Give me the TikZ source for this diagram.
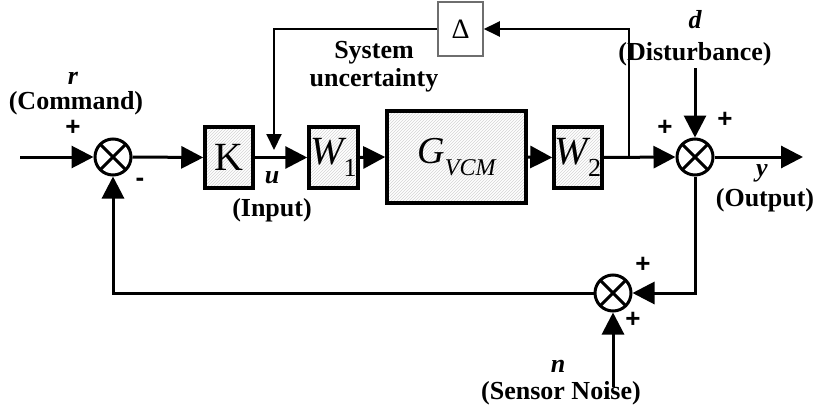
\documentclass[tikz,border=0pt]{standalone}
\usepackage{fontspec}
\setmainfont{Liberation Serif}
\newfontfamily\signfont{Liberation Sans}
\usetikzlibrary{arrows.meta,positioning,calc,patterns}
\definecolor{hatchGray}{HTML}{D4D4D4}
\definecolor{deltaEdge}{HTML}{6E6E6E}

\tikzset{
  blockbox/.style={draw,line width=3.5pt,pattern=north east lines,pattern color=hatchGray,
    minimum width=48pt,minimum height=61pt,inner sep=0pt},
  sumnode/.style={draw,circle,line width=3pt,minimum size=36pt,inner sep=0pt,
    path picture={\draw[line width=3pt]
      (path picture bounding box.north west) -- (path picture bounding box.south east)
      (path picture bounding box.north east) -- (path picture bounding box.south west);}},
  sig/.style={line width=3pt,-{Triangle[length=22pt,width=22pt]}},
  thinsig/.style={line width=2pt,-{Triangle[length=16pt,width=15pt]}},
  lbl/.style={font=\fontsize{26}{28}\selectfont\bfseries,inner sep=0pt,align=center},
  sgn/.style={font=\signfont\fontsize{26}{26}\selectfont\bfseries,inner sep=0pt,
    text height=0.55em,text depth=0pt}
}

\begin{document}
\begin{tikzpicture}[x=1pt,y=-1pt]
\useasboundingbox (0,0) rectangle (813,412);
% blocks
\node[sumnode] (sumR) at (113,157) {};
\node[blockbox] (gainK) at (229,157.5) {\fontsize{40}{40}\selectfont K};
\node[blockbox,minimum width=49pt] (wOne) at (333.5,157.5)
  {\fontsize{40}{40}\selectfont\itshape W\raisebox{-0.3em}{\upshape\fontsize{26}{26}\selectfont 1}};
\node[blockbox,minimum width=139pt,minimum height=92pt] (plant) at (456.5,157)
  {\fontsize{38}{38}\selectfont\itshape G\raisebox{-0.3em}{\fontsize{24}{24}\selectfont VCM}};
\node[blockbox] (wTwo) at (578,157.5)
  {\fontsize{40}{40}\selectfont\itshape W\raisebox{-0.3em}{\upshape\fontsize{26}{26}\selectfont 2}};
\node[draw=deltaEdge,line width=1.5pt,minimum width=45pt,minimum height=54pt,inner sep=0pt]
  (delta) at (460.5,29) {\fontsize{28}{28}\selectfont Δ};
\node[sumnode] (sumD) at (695,157) {};
\node[sumnode] (sumN) at (613,293) {};
% free ends
\coordinate (rIn) at (20,157);
\coordinate (uTop) at (274,150);
\coordinate (yBranch) at (629,157);
\coordinate (dIn) at (695,68);
\coordinate (yOut) at (803,157);
\coordinate (nIn) at (613,387);
% signals
\draw[sig] (rIn) -- (sumR.west);
\draw[sig] (sumR.east) -- (gainK.west);
\draw[sig] (gainK.east) -- (wOne.west);
\draw[sig] (wOne.east) -- (plant.west);
\draw[sig] (plant.east) -- (wTwo.west);
\draw[sig] (wTwo.east) -- (sumD.west);
\draw[thinsig] (yBranch) |- (delta.east);
\draw[thinsig] (delta.west) -| (uTop);
\draw[sig] (dIn) -- (sumD.north);
\draw[sig] (sumD.east) -- (yOut);
\draw[sig] (sumD.south) |- (sumN.east);
\draw[sig] (nIn) -- (sumN.south);
\draw[sig] (sumN.west) -| (sumR.south);
% labels
\node[lbl] (rLbl) at (73,78) {\itshape r};
\node[lbl] (cmdLbl) at (76,103) {(Command)};
\node[sgn] (rPlus) at (73,133) {+};
\node[sgn] (rMinus) at (140,184) {-};
\node[lbl] (uLbl) at (272,178) {\itshape u};
\node[lbl] (inLbl) at (272,210) {(Input)};
\node[lbl] (uncLbl) at (374,67) {System\\uncertainty};
\node[lbl] (dLbl) at (695,20) {\itshape d};
\node[lbl] (distLbl) at (695,54) {(Disturbance)};
\node[sgn] (dPlusL) at (665,133) {+};
\node[sgn] (dPlusT) at (725,125) {+};
\node[lbl] (yLbl) at (762,173) {\itshape y};
\node[lbl] (outLbl) at (765,200) {(Output)};
\node[sgn] (nPlusT) at (643,270) {+};
\node[sgn] (nPlusB) at (633,325) {+};
\node[lbl] (nLbl) at (558,366) {\itshape n};
\node[lbl] (noiseLbl) at (561,393) {(Sensor Noise)};
\end{tikzpicture}
\end{document}
